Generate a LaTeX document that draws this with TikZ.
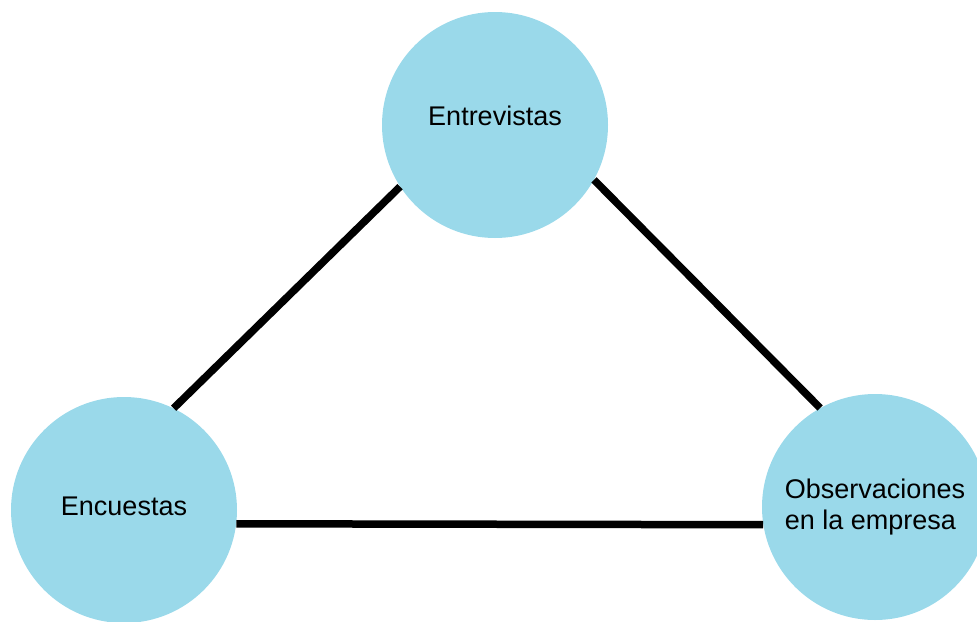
\documentclass[tikz,border=0pt]{standalone}
\usepackage{fontspec}
\setmainfont{Liberation Sans}
\usepackage{xcolor}
\usepackage{tikz}
\usetikzlibrary{positioning}
\definecolor{circlecolor}{RGB}{154,217,234}

\begin{document}
\begin{tikzpicture}[
    x=1pt, y=-1pt,
    topic/.style={circle, fill=circlecolor, minimum size=226pt, inner sep=0pt, font=\fontsize{27}{31}\selectfont},
    link/.style={line width=7.5pt, black},
]
    \useasboundingbox (0,0) rectangle (977,621);

    % Circles
    \node[topic, text height=10pt, text depth=10pt] (entrev) at (495,125) {Entrevistas};
    \node[topic, text height=15pt, text depth=4pt] (encuest) at (124,510) {Encuestas};
    \node[topic, align=left] (observ) at (875,507) {Observaciones\\en la empresa};

    % Connections
    \draw[link] (encuest.64) -- (entrev.213);
    \draw[link] (entrev.331) -- (observ.119);
    \draw[link] (encuest.-7.6) -- (observ.189);
\end{tikzpicture}
\end{document}
